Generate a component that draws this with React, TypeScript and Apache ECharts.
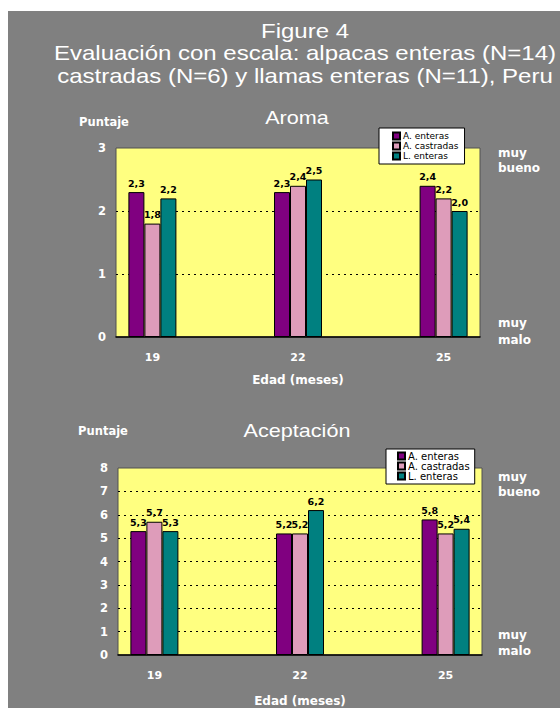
import { useEffect, useRef } from "react";
import * as echarts from "echarts";

// Age groups (months) shown on both x axes
const ages = [19, 22, 25];

// Group names and fills
const groupNames = ["A. enteras", "A. castradas", "L. enteras"];
const groupColors = ["#800080", "#DE9CBA", "#008080"];

// Aroma scores (0–3 scale)
const aromaAlpacasEnteras = [2.3, 2.3, 2.4];
const aromaAlpacasCastradas = [1.8, 2.4, 2.2];
const aromaLlamasEnteras = [2.2, 2.5, 2.0];

// Aceptación scores (0–8 scale)
const aceptAlpacasEnteras = [5.3, 5.2, 5.8];
const aceptAlpacasCastradas = [5.7, 5.2, 5.2];
const aceptLlamasEnteras = [5.3, 6.2, 5.4];

const titleLines = [
  "Figure 4",
  "Evaluación con escala: alpacas enteras (N=14)",
  "castradas (N=6) y llamas enteras (N=11), Peru",
];

const WHITE = "#ffffff";
const SMALL_FONT = "DejaVu Sans";
const TITLE_FONT = "Liberation Sans, Arial, sans-serif";

const fmt = (v: number) => v.toFixed(1).replace(".", ",");

function barSeries(
  name: string,
  color: string,
  values: number[],
  axisIndex: number
) {
  return {
    type: "bar",
    name,
    xAxisIndex: axisIndex,
    yAxisIndex: axisIndex,
    data: ages.map((a, i) => [a, values[i]]),
    barWidth: 16,
    barGap: "0%",
    itemStyle: { color, borderColor: "#000000", borderWidth: 1 },
    label: {
      show: true,
      position: "top",
      distance: 4,
      color: "#000000",
      fontFamily: SMALL_FONT,
      fontWeight: "bold",
      fontSize: 9.5,
      formatter: (p: any) => fmt(p.value[1]),
    },
  };
}

function xAxisFor(gridIndex: number, nameGap: number) {
  return {
    type: "value",
    gridIndex,
    min: 18.25,
    max: 25.75,
    interval: 0.25,
    name: "Edad (meses)",
    nameLocation: "middle",
    nameGap,
    nameTextStyle: {
      color: WHITE,
      fontFamily: SMALL_FONT,
      fontWeight: "bold",
      fontSize: 12,
    },
    axisLine: { show: true, lineStyle: { color: "#000000", width: 1.5 } },
    axisTick: { show: false },
    splitLine: { show: false },
    axisLabel: {
      margin: 15,
      color: WHITE,
      fontFamily: SMALL_FONT,
      fontWeight: "bold",
      fontSize: 11,
      formatter: (v: number) => (ages.includes(v) ? String(v) : ""),
    },
  };
}

function yAxisFor(gridIndex: number, max: number) {
  return {
    type: "value",
    gridIndex,
    min: 0,
    max,
    interval: 1,
    axisLine: { show: false },
    axisTick: { show: false },
    axisLabel: {
      margin: 10,
      color: WHITE,
      fontFamily: SMALL_FONT,
      fontWeight: "bold",
      fontSize: 11.5,
    },
    splitLine: {
      show: true,
      showMinLine: false,
      showMaxLine: false,
      lineStyle: { color: "#000000", type: [2, 4], width: 1 },
    },
  };
}

function legendFor(
  gridIndex: number,
  left: number,
  top: number,
  fontSize: number,
  lineHeight: number,
  padding: number[]
) {
  return {
    id: "legend" + gridIndex,
    data: groupNames,
    orient: "vertical",
    left,
    top,
    itemWidth: 7,
    itemHeight: 7,
    itemGap: 0,
    padding,
    backgroundColor: "#ffffff",
    borderColor: "#000000",
    borderWidth: 1,
    borderRadius: 0,
    selectedMode: false,
    icon: "rect",
    textStyle: {
      color: "#000000",
      fontFamily: SMALL_FONT,
      fontSize,
      lineHeight,
      padding: [0, 0, 0, -2],
    },
  };
}

function label(
  text: string,
  x: number,
  y: number,
  opts: { size: number; bold?: boolean; align?: string; font?: string; sx?: number }
) {
  return {
    type: "text",
    x,
    y,
    scaleX: opts.sx ?? 1,
    style: {
      text,
      fill: WHITE,
      font: `${opts.bold ? "bold " : ""}${opts.size}px ${opts.font ?? SMALL_FONT}`,
      align: opts.align ?? "left",
      verticalAlign: "middle",
    },
  };
}

export default function App() {
  const ref = useRef<HTMLDivElement>(null);

  useEffect(() => {
    if (!ref.current) return;
    const chart = echarts.init(ref.current, undefined, { renderer: "svg" });

    const option: any = {
      animation: false,
      backgroundColor: "#808080",
      grid: [
        {
          left: 108,
          top: 137,
          width: 364,
          height: 189,
          show: true,
          backgroundColor: "#FFFF80",
          borderColor: "#505050",
          borderWidth: 1,
        },
        {
          left: 110,
          top: 457,
          width: 364,
          height: 189,
          show: true,
          backgroundColor: "#FFFF80",
          borderColor: "#505050",
          borderWidth: 1,
        },
      ],
      xAxis: [xAxisFor(0, 37), xAxisFor(1, 40)],
      yAxis: [yAxisFor(0, 3), yAxisFor(1, 8)],
      legend: [
        legendFor(0, 371, 117, 9, 10, [3, 6, 3, 13]),
        legendFor(1, 378, 438, 10, 9, [2, 5, 3, 11]),
      ],
      series: [
        barSeries(groupNames[0], groupColors[0], aromaAlpacasEnteras, 0),
        barSeries(groupNames[1], groupColors[1], aromaAlpacasCastradas, 0),
        barSeries(groupNames[2], groupColors[2], aromaLlamasEnteras, 0),
        barSeries(groupNames[0], groupColors[0], aceptAlpacasEnteras, 1),
        barSeries(groupNames[1], groupColors[1], aceptAlpacasCastradas, 1),
        barSeries(groupNames[2], groupColors[2], aceptLlamasEnteras, 1),
      ],
      graphic: [
        label(titleLines[0], 297, 20, { size: 20, align: "center", font: TITLE_FONT, sx: 1.2 }),
        label(titleLines[1], 297, 42, { size: 20, align: "center", font: TITLE_FONT, sx: 1.2 }),
        label(titleLines[2], 297, 65, { size: 20, align: "center", font: TITLE_FONT, sx: 1.2 }),

        label("Aroma", 289, 107, { size: 18, align: "center", font: TITLE_FONT, sx: 1.2 }),
        label("Puntaje", 96, 111, { size: 11.5, bold: true, align: "center" }),
        label("muy", 490, 142, { size: 12, bold: true }),
        label("bueno", 490, 157, { size: 12, bold: true }),
        label("muy", 490, 312, { size: 12, bold: true }),
        label("malo", 490, 329, { size: 12, bold: true }),

        label("Aceptación", 289, 420, { size: 18, align: "center", font: TITLE_FONT, sx: 1.2 }),
        label("Puntaje", 95, 420, { size: 11.5, bold: true, align: "center" }),
        label("muy", 490, 466, { size: 12, bold: true }),
        label("bueno", 490, 481, { size: 12, bold: true }),
        label("muy", 490, 624, { size: 12, bold: true }),
        label("malo", 490, 640, { size: 12, bold: true }),
      ],
    };

    chart.setOption(option);
    return () => chart.dispose();
  }, []);

  return (
    <div
      ref={ref}
      style={{
        position: "fixed",
        left: 8,
        top: 11,
        width: 552,
        height: 697,
        background: "#808080",
      }}
    />
  );
}
